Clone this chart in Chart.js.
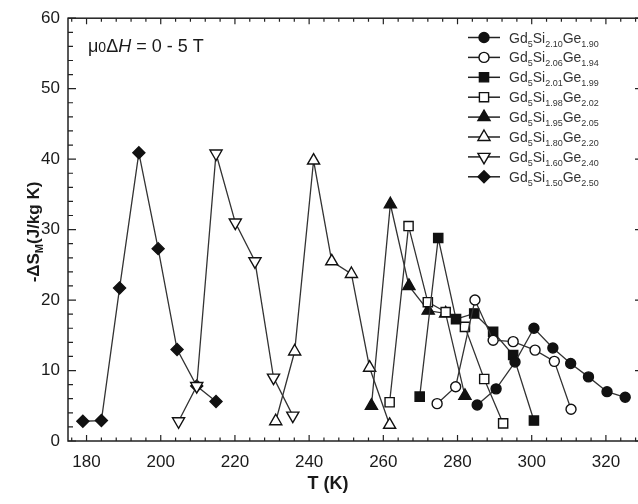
<!DOCTYPE html>
<html>
<head>
<meta charset="utf-8">
<script src="https://cdn.jsdelivr.net/npm/chart.js@4"></script>
<style>
  html, body { margin: 0; padding: 0; background: #fff; overflow: hidden; }
  #wrap { width: 638px; height: 504px; overflow: hidden; }
  canvas { display: block; }
</style>
</head>
<body>
<div id="wrap"><canvas id="chart" width="660" height="504"></canvas></div>
<script>
// Состав образцов Gd5SixGe(4-x)
const siLabels = ['2.10', '2.06', '2.01', '1.98', '1.95', '1.80', '1.60', '1.50'];
const geLabels = ['1.90', '1.94', '1.99', '2.02', '2.05', '2.20', '2.40', '2.50'];

// Подписи осей
const xTicks = [180, 200, 220, 240, 260, 280, 300, 320];
const yTicks = [0, 10, 20, 30, 40, 50, 60];

// T (K) и -ΔS_M (J/kg K) для каждого образца
const tGe190 = [285.3, 290.4, 295.5, 300.6, 305.7, 310.5, 315.3, 320.3, 325.2];
const sGe190 = [5.1, 7.4, 11.2, 16.0, 13.2, 11.0, 9.1, 7.0, 6.2];
const tGe194 = [274.5, 279.5, 284.7, 289.6, 295.0, 300.9, 306.1, 310.6];
const sGe194 = [5.3, 7.7, 20.0, 14.3, 14.1, 12.9, 11.3, 4.5];
const tGe199 = [269.8, 274.8, 279.6, 284.5, 289.6, 295.0, 300.6];
const sGe199 = [6.3, 28.8, 17.3, 18.1, 15.5, 12.2, 2.9];
const tGe202 = [261.7, 266.8, 272.0, 276.8, 282.0, 287.2, 292.3];
const sGe202 = [5.5, 30.5, 19.7, 18.3, 16.2, 8.8, 2.5];
const tGe205 = [256.8, 261.9, 266.9, 272.1, 276.8, 282.0];
const sGe205 = [5.0, 33.6, 22.0, 18.5, 18.1, 6.4];
const tGe220 = [231.0, 236.1, 241.2, 246.1, 251.4, 256.3, 261.7];
const sGe220 = [2.8, 12.7, 39.8, 25.5, 23.7, 10.4, 2.3];
const tGe240 = [204.8, 209.7, 214.9, 220.1, 225.4, 230.4, 235.6];
const sGe240 = [2.8, 7.8, 40.8, 31.0, 25.5, 9.0, 3.6];
const tGe250 = [179.0, 184.0, 188.9, 194.1, 199.3, 204.4, 209.7, 214.9];
const sGe250 = [2.8, 2.9, 21.7, 40.9, 27.3, 13.0, 7.8, 5.6];

const temps = [tGe190, tGe194, tGe199, tGe202, tGe205, tGe220, tGe240, tGe250];
const entropies = [sGe190, sGe194, sGe199, sGe202, sGe205, sGe220, sGe240, sGe250];

// Вид маркеров
const markers = [
  { style: 'circle', rot: 0, filled: true, r: 5 },
  { style: 'circle', rot: 0, filled: false, r: 5 },
  { style: 'rect', rot: 0, filled: true, r: 6.5 },
  { style: 'rect', rot: 0, filled: false, r: 6.5 },
  { style: 'triangle', rot: 0, filled: true, r: 7 },
  { style: 'triangle', rot: 0, filled: false, r: 7 },
  { style: 'triangle', rot: 180, filled: false, r: 7 },
  { style: 'rectRot', rot: 0, filled: true, r: 6 }
];

const FONT = '"Liberation Sans", Arial, sans-serif';
const INK = '#1a1a1a';

const datasets = temps.map((t, i) => ({
  label: 'Gd5Si' + siLabels[i] + 'Ge' + geLabels[i],
  data: t.map((x, k) => ({ x: x, y: entropies[i][k] })),
  borderColor: '#333',
  borderWidth: 1.3,
  pointStyle: markers[i].style,
  pointRotation: markers[i].rot,
  pointRadius: markers[i].r,
  pointBorderWidth: 1.4,
  pointBorderColor: '#111',
  pointBackgroundColor: markers[i].filled ? '#111' : '#fff',
  tension: 0
}));

// Текст с индексами
function drawRich(ctx, parts, x, y) {
  let cx = x;
  parts.forEach(p => {
    ctx.font = p.font;
    ctx.fillText(p.text, cx, y + (p.dy || 0));
    cx += ctx.measureText(p.text).width;
  });
  return cx - x;
}
function richWidth(ctx, parts) {
  let w = 0;
  parts.forEach(p => { ctx.font = p.font; w += ctx.measureText(p.text).width; });
  return w;
}

// Рамка и засечки внутрь, как в Origin
const framePlugin = {
  id: 'frame',
  afterDatasetsDraw(chart) {
    const { ctx, chartArea: a, scales: { x, y } } = chart;
    ctx.save();
    ctx.strokeStyle = '#222';
    ctx.lineWidth = 1.5;
    ctx.strokeRect(a.left, a.top, a.right - a.left, a.bottom - a.top);
    ctx.lineWidth = 1.2;
    ctx.beginPath();
    for (let v = 176; v <= 330; v += 4) {
      const px = x.getPixelForValue(v);
      const len = v % 20 === 0 ? 6 : 3.5;
      ctx.moveTo(px, a.bottom); ctx.lineTo(px, a.bottom - len);
      ctx.moveTo(px, a.top); ctx.lineTo(px, a.top + len);
    }
    for (let v = 0; v <= 60; v += 2) {
      const py = y.getPixelForValue(v);
      const len = v % 10 === 0 ? 8 : 5;
      ctx.moveTo(a.left, py); ctx.lineTo(a.left + len, py);
      ctx.moveTo(a.right, py); ctx.lineTo(a.right - len, py);
    }
    ctx.stroke();
    ctx.restore();
  }
};

// Подписи, легенда, заголовки осей
const textPlugin = {
  id: 'texts',
  afterDraw(chart) {
    const ctx = chart.ctx;
    ctx.save();
    ctx.fillStyle = INK;
    ctx.textBaseline = 'alphabetic';
    ctx.textAlign = 'left';

    // μ0ΔH = 0 - 5 T
    drawRich(ctx, [
      { text: 'μ', font: '18px ' + FONT },
      { text: '0', font: '14px ' + FONT },
      { text: 'Δ', font: '18px ' + FONT },
      { text: 'H', font: 'italic 18px ' + FONT },
      { text: ' = 0 - 5 T', font: '18px ' + FONT }
    ], 88, 52);

    // Ось X
    ctx.font = 'bold 18px ' + FONT;
    ctx.textAlign = 'center';
    ctx.fillText('T (K)', 328, 489);
    ctx.textAlign = 'left';

    // Ось Y
    const yParts = [
      { text: '-ΔS', font: 'bold 17px ' + FONT },
      { text: 'M', font: 'bold 11px ' + FONT, dy: 4 },
      { text: '(J/kg K)', font: 'bold 17px ' + FONT }
    ];
    ctx.save();
    ctx.translate(33, 232);
    ctx.rotate(-Math.PI / 2);
    drawRich(ctx, yParts, -richWidth(ctx, yParts) / 2, 6);
    ctx.restore();

    // Легенда
    datasets.forEach((ds, i) => {
      const ly = 37.5 + i * 19.9;
      ctx.strokeStyle = '#222';
      ctx.lineWidth = 1.5;
      ctx.beginPath();
      ctx.moveTo(468, ly);
      ctx.lineTo(500, ly);
      ctx.stroke();
      ctx.fillStyle = ds.pointBackgroundColor;
      ctx.strokeStyle = '#111';
      ctx.lineWidth = 1.4;
      Chart.helpers.drawPoint(ctx, {
        pointStyle: markers[i].style,
        rotation: markers[i].rot,
        radius: markers[i].r,
        borderWidth: 1.4
      }, 484, ly);
      ctx.fillStyle = '#333';
      drawRich(ctx, [
        { text: 'Gd', font: '14px ' + FONT },
        { text: '5', font: '9px ' + FONT, dy: 4 },
        { text: 'Si', font: '14px ' + FONT },
        { text: siLabels[i], font: '9px ' + FONT, dy: 4 },
        { text: 'Ge', font: '14px ' + FONT },
        { text: geLabels[i], font: '9px ' + FONT, dy: 4 }
      ], 509, ly + 5);
    });
    ctx.restore();
  }
};

new Chart(document.getElementById('chart'), {
  type: 'line',
  data: { datasets: datasets },
  options: {
    responsive: false,
    devicePixelRatio: 1,
    animation: false,
    layout: { padding: { top: 12, right: 17, left: 0, bottom: 0 } },
    plugins: {
      legend: { display: false },
      tooltip: { enabled: false }
    },
    scales: {
      x: {
        type: 'linear',
        min: 175,
        max: 330,
        afterBuildTicks: s => { s.ticks = xTicks.map(v => ({ value: v })); },
        afterFit: s => { s.height = 63; },
        grid: { display: false, drawTicks: false },
        border: { display: false },
        ticks: { padding: 11, color: INK, font: { family: FONT, size: 17 } }
      },
      y: {
        type: 'linear',
        min: 0,
        max: 60,
        afterBuildTicks: s => { s.ticks = yTicks.map(v => ({ value: v })); },
        afterFit: s => { s.width = 68; },
        grid: { display: false, drawTicks: false },
        border: { display: false },
        ticks: { padding: 8, color: INK, font: { family: FONT, size: 17 } }
      }
    }
  },
  plugins: [framePlugin, textPlugin]
});
</script>
</body>
</html>
